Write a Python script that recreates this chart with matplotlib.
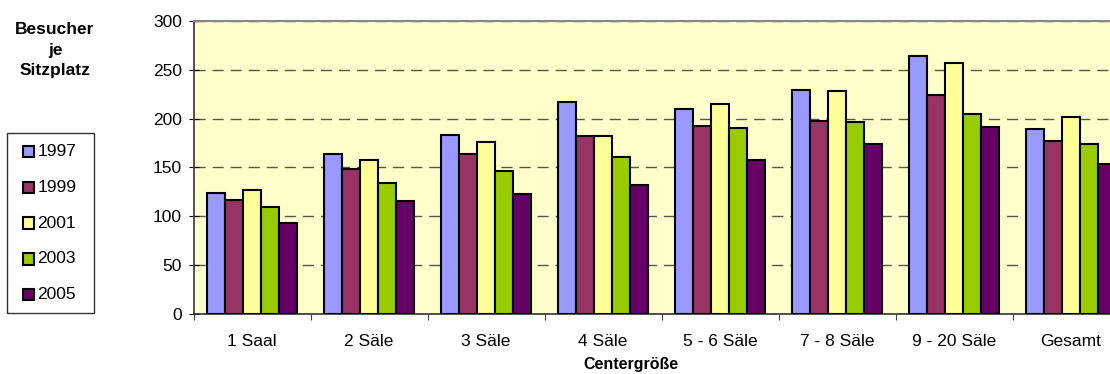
import matplotlib
matplotlib.use("Agg")
import matplotlib.pyplot as plt
from matplotlib.patches import Rectangle
import numpy as np

categories = ["1 Saal", "2 Säle", "3 Säle", "4 Säle", "5 - 6 Säle", "7 - 8 Säle", "9 - 20 Säle", "Gesamt"]
years = ["1997", "1999", "2001", "2003", "2005"]
v1997 = [124, 164, 183, 217, 210, 229, 264, 189]
v1999 = [117, 148, 164, 182, 192, 197, 224, 177]
v2001 = [127, 158, 176, 182, 215, 228, 257, 202]
v2003 = [109, 134, 146, 161, 190, 196, 205, 174]
v2005 = [93, 116, 123, 132, 158, 174, 191, 153]
series = [v1997, v1999, v2001, v2003, v2005]
colors = ["#9999FF", "#993366", "#FFFF99", "#99CC00", "#660066"]
yticks = [0, 50, 100, 150, 200, 250, 300]

plt.rcParams["font.family"] = ["Liberation Sans", "DejaVu Sans"]

W, H = 1110, 374
fig = plt.figure(figsize=(W / 100, H / 100), dpi=100)


def fx(px):
    return px / W


def fy(py):
    return 1 - py / H


left, right, top, bottom = 193.5, 1129.5, 21, 313.7
ax = fig.add_axes([fx(left), fy(bottom), (right - left) / W, (bottom - top) / H])
ax.set_facecolor("#FFFFCC")

n = len(categories)
x = np.arange(n)
bw = 18 / 117
for i, (vals, c, lab) in enumerate(zip(series, colors, years)):
    ax.bar(x + (i - 2) * bw, vals, width=bw, color=c, edgecolor="black", linewidth=1.5, label=lab, zorder=3)

ax.set_xlim(-0.5, n - 0.5)
ax.set_ylim(0, 300)
ax.set_yticks(yticks)
ax.set_xticks(np.arange(-0.5, n, 1.0), minor=False)
ax.set_xticklabels([])
ax.set_xticks(x, minor=True)
ax.set_xticklabels(categories, minor=True, fontsize=12.5)
ax.tick_params(axis="x", which="minor", length=0, pad=14.5)
ax.tick_params(axis="x", which="major", length=4.5, direction="out", color="#444444")
ax.tick_params(axis="y", labelsize=12.5, length=6.5, direction="inout", color="black", pad=5)
ax.yaxis.grid(True, linestyle=(0, (8, 5)), color="#555555", linewidth=1.0, zorder=1)
ax.set_axisbelow(True)
ax.spines["left"].set_color("#333333")
ax.spines["left"].set_linewidth(1.2)
ax.spines["bottom"].set_color("#333333")
ax.spines["bottom"].set_linewidth(1.2)
ax.spines["top"].set_color("#888888")
ax.spines["top"].set_linewidth(1.5)
ax.spines["right"].set_color("#888888")

fig.text(fx(631), fy(364), "Centergröße", ha="center", va="center", fontsize=11.5, fontweight="bold")
fig.text(fx(55), fy(50), "Besucher\nje\nSitzplatz", ha="center", va="center", fontsize=12.5,
         fontweight="bold", linespacing=1.45)

# legend box
fig.patches.append(Rectangle((fx(6.7), fy(313.3)), (94 - 6.7) / W, (313.3 - 132.7) / H,
                             transform=fig.transFigure, facecolor="white", edgecolor="#333333",
                             linewidth=1.0, zorder=5))
sq = 11.5
for i, (lab, c) in enumerate(zip(years, colors)):
    yc = 151.5 + 35.8 * i
    fig.patches.append(Rectangle((fx(22.5), fy(yc + sq / 2)), sq / W, sq / H, transform=fig.transFigure,
                                 facecolor=c, edgecolor="black", linewidth=1.5, zorder=6))
    fig.text(fx(37.5), fy(yc), lab, ha="left", va="center", fontsize=12.5, zorder=7)

fig.savefig("out.png", dpi=100)
